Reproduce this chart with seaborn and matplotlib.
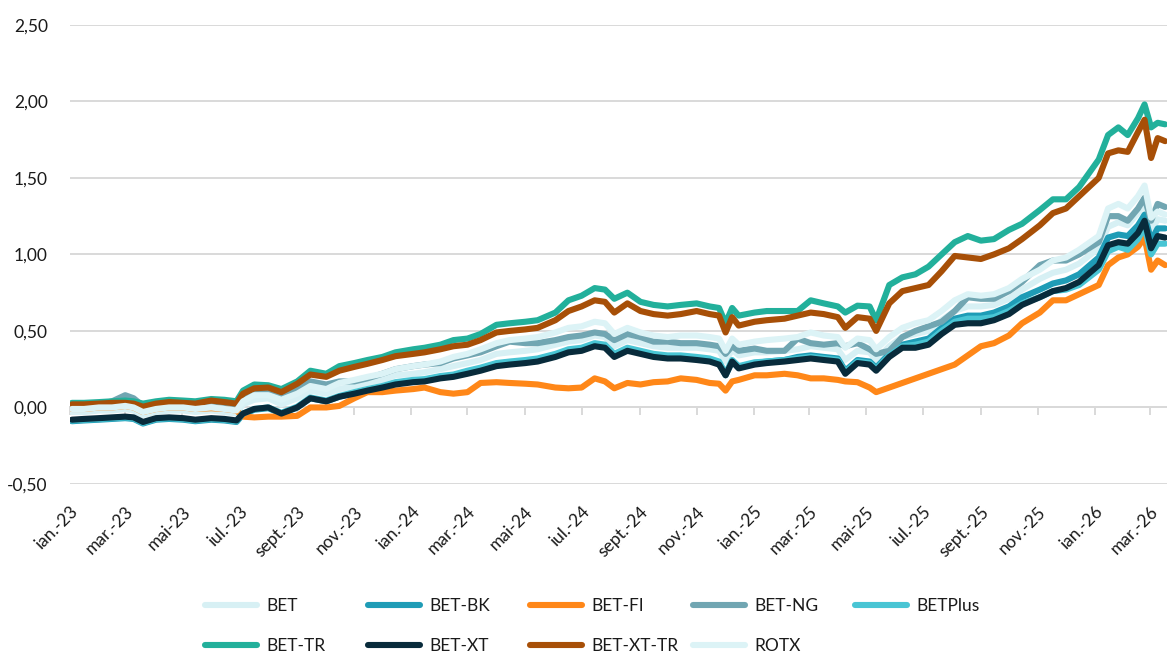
import matplotlib
matplotlib.use("Agg")
import matplotlib.pyplot as plt
from matplotlib.lines import Line2D
from matplotlib.ticker import FuncFormatter
import numpy as np
import pandas as pd
import seaborn as sns

# Sampling dates (roughly twice a month, plus a few turning points)
dates = [
    "2023-01-03", "2023-01-16", "2023-02-01", "2023-02-15", "2023-03-01", "2023-03-10",
    "2023-03-20", "2023-04-03", "2023-04-17", "2023-05-02", "2023-05-15", "2023-06-01",
    "2023-06-15", "2023-06-28", "2023-07-05", "2023-07-17", "2023-08-01", "2023-08-15",
    "2023-09-01", "2023-09-15", "2023-10-02", "2023-10-16", "2023-11-01", "2023-11-15",
    "2023-12-01", "2023-12-15", "2024-01-03", "2024-01-15", "2024-02-01", "2024-02-15",
    "2024-03-01", "2024-03-15", "2024-04-01", "2024-04-15", "2024-05-02", "2024-05-15",
    "2024-06-03", "2024-06-17", "2024-07-01", "2024-07-15", "2024-07-26", "2024-08-05",
    "2024-08-19", "2024-09-02", "2024-09-16", "2024-10-01", "2024-10-15", "2024-11-01",
    "2024-11-15", "2024-11-25", "2024-12-02", "2024-12-09", "2024-12-16", "2025-01-02",
    "2025-01-15", "2025-02-03", "2025-02-17", "2025-03-03", "2025-03-17", "2025-04-01",
    "2025-04-09", "2025-04-22", "2025-05-05", "2025-05-12", "2025-05-26", "2025-06-09",
    "2025-06-23", "2025-07-07", "2025-07-21", "2025-08-04", "2025-08-18", "2025-09-01",
    "2025-09-15", "2025-10-01", "2025-10-15", "2025-11-03", "2025-11-17", "2025-12-01",
    "2025-12-15", "2026-01-05", "2026-01-15", "2026-01-26", "2026-02-05", "2026-02-16",
    "2026-02-23", "2026-03-02", "2026-03-09", "2026-03-17",
]

bet = [
    -0.03, -0.03, -0.02, -0.02, -0.01, -0.02, -0.05, -0.03, -0.02, -0.02, -0.03, -0.02,
    -0.03, -0.04, 0.02, 0.05, 0.06, 0.02, 0.06, 0.11, 0.09, 0.12, 0.14, 0.16,
    0.18, 0.21, 0.22, 0.23, 0.25, 0.27, 0.29, 0.31, 0.35, 0.36, 0.37, 0.38,
    0.41, 0.43, 0.44, 0.47, 0.46, 0.40, 0.44, 0.42, 0.40, 0.39, 0.39, 0.39,
    0.38, 0.37, 0.30, 0.38, 0.34, 0.36, 0.36, 0.37, 0.38, 0.40, 0.39, 0.38,
    0.31, 0.37, 0.36, 0.31, 0.40, 0.46, 0.48, 0.50, 0.57, 0.63, 0.66, 0.66,
    0.67, 0.71, 0.77, 0.84, 0.88, 0.90, 0.94, 1.04, 1.18, 1.21, 1.19, 1.27,
    1.34, 1.15, 1.23, 1.22,
]

bet_bk = [
    -0.09, -0.085, -0.08, -0.075, -0.07, -0.075, -0.105, -0.08, -0.075, -0.08, -0.09, -0.08,
    -0.085, -0.095, -0.045, -0.015, -0.005, -0.04, 0.0, 0.06, 0.04, 0.07, 0.095, 0.115,
    0.135, 0.16, 0.175, 0.18, 0.20, 0.21, 0.235, 0.255, 0.285, 0.295, 0.30, 0.315,
    0.345, 0.37, 0.38, 0.41, 0.40, 0.34, 0.38, 0.36, 0.34, 0.33, 0.33, 0.32,
    0.31, 0.29, 0.21, 0.30, 0.26, 0.29, 0.30, 0.31, 0.33, 0.34, 0.33, 0.32,
    0.24, 0.31, 0.30, 0.26, 0.35, 0.41, 0.43, 0.45, 0.52, 0.58, 0.60, 0.60,
    0.62, 0.66, 0.72, 0.77, 0.81, 0.83, 0.87, 0.98, 1.11, 1.13, 1.12, 1.19,
    1.26, 1.09, 1.17, 1.17,
]

bet_fi = [
    -0.01, -0.01, 0.0, 0.0, 0.01, 0.0, -0.03, -0.01, 0.0, 0.0, -0.01, -0.005,
    -0.01, -0.02, -0.06, -0.065, -0.06, -0.06, -0.055, 0.0, 0.0, 0.01, 0.06, 0.10,
    0.10, 0.11, 0.12, 0.13, 0.10, 0.09, 0.10, 0.16, 0.165, 0.16, 0.155, 0.15,
    0.13, 0.125, 0.13, 0.19, 0.17, 0.125, 0.16, 0.15, 0.165, 0.17, 0.19, 0.18,
    0.16, 0.155, 0.11, 0.17, 0.18, 0.21, 0.21, 0.22, 0.21, 0.19, 0.19, 0.18,
    0.17, 0.165, 0.13, 0.10, 0.13, 0.16, 0.19, 0.22, 0.25, 0.28, 0.34, 0.40,
    0.42, 0.47, 0.55, 0.62, 0.70, 0.70, 0.74, 0.80, 0.93, 0.98, 1.00, 1.05,
    1.11, 0.90, 0.96, 0.93,
]

bet_ng = [
    0.0, 0.0, 0.02, 0.04, 0.08, 0.06, 0.01, 0.03, 0.04, 0.04, 0.03, 0.04,
    0.03, 0.02, 0.08, 0.10, 0.10, 0.07, 0.12, 0.17, 0.15, 0.17, 0.17, 0.19,
    0.22, 0.25, 0.27, 0.28, 0.29, 0.32, 0.34, 0.36, 0.40, 0.43, 0.42, 0.42,
    0.44, 0.46, 0.47, 0.49, 0.48, 0.44, 0.48, 0.46, 0.43, 0.43, 0.42, 0.42,
    0.41, 0.40, 0.35, 0.40, 0.37, 0.385, 0.37, 0.37, 0.45, 0.42, 0.41, 0.42,
    0.40, 0.42, 0.38, 0.35, 0.37, 0.46, 0.50, 0.53, 0.56, 0.63, 0.72, 0.71,
    0.71, 0.76, 0.82, 0.93, 0.96, 0.96, 1.00, 1.08, 1.25, 1.25, 1.22, 1.30,
    1.37, 1.22, 1.33, 1.31,
]

bet_plus = [
    -0.085, -0.08, -0.075, -0.07, -0.065, -0.07, -0.10, -0.075, -0.07, -0.075, -0.085, -0.075,
    -0.08, -0.09, -0.04, -0.01, 0.0, -0.035, 0.005, 0.065, 0.045, 0.075, 0.10, 0.12,
    0.14, 0.165, 0.18, 0.185, 0.205, 0.215, 0.24, 0.26, 0.29, 0.30, 0.31, 0.32,
    0.35, 0.38, 0.39, 0.42, 0.41, 0.35, 0.39, 0.37, 0.35, 0.34, 0.34, 0.33,
    0.32, 0.30, 0.22, 0.31, 0.27, 0.295, 0.30, 0.31, 0.32, 0.33, 0.32, 0.31,
    0.23, 0.30, 0.29, 0.25, 0.34, 0.40, 0.41, 0.43, 0.50, 0.56, 0.58, 0.58,
    0.59, 0.63, 0.68, 0.72, 0.76, 0.77, 0.80, 0.90, 1.02, 1.05, 1.03, 1.10,
    1.18, 1.00, 1.07, 1.07,
]

bet_tr = [
    0.03, 0.03, 0.035, 0.04, 0.045, 0.04, 0.025, 0.04, 0.05, 0.045, 0.04, 0.055,
    0.05, 0.04, 0.11, 0.15, 0.145, 0.12, 0.17, 0.24, 0.22, 0.27, 0.29, 0.31,
    0.33, 0.36, 0.38, 0.39, 0.41, 0.44, 0.45, 0.48, 0.54, 0.55, 0.56, 0.57,
    0.62, 0.70, 0.73, 0.78, 0.77, 0.71, 0.75, 0.69, 0.67, 0.66, 0.67, 0.68,
    0.66, 0.65, 0.55, 0.65, 0.60, 0.62, 0.63, 0.63, 0.63, 0.70, 0.68, 0.66,
    0.62, 0.665, 0.66, 0.57, 0.80, 0.85, 0.87, 0.92, 1.00, 1.08, 1.12, 1.09,
    1.10, 1.16, 1.20, 1.29, 1.36, 1.36, 1.44, 1.62, 1.78, 1.83, 1.78, 1.89,
    1.98, 1.83, 1.86, 1.85,
]

bet_xt = [
    -0.08, -0.075, -0.07, -0.065, -0.06, -0.065, -0.095, -0.07, -0.065, -0.07, -0.08, -0.07,
    -0.075, -0.085, -0.04, -0.01, 0.0, -0.04, 0.0, 0.06, 0.04, 0.07, 0.09, 0.11,
    0.13, 0.15, 0.165, 0.17, 0.19, 0.20, 0.22, 0.24, 0.27, 0.28, 0.29, 0.30,
    0.33, 0.36, 0.37, 0.40, 0.39, 0.33, 0.37, 0.35, 0.33, 0.32, 0.32, 0.31,
    0.30, 0.28, 0.21, 0.30, 0.255, 0.28, 0.29, 0.30, 0.31, 0.32, 0.31, 0.30,
    0.22, 0.29, 0.28, 0.24, 0.33, 0.39, 0.39, 0.41, 0.48, 0.54, 0.55, 0.55,
    0.57, 0.61, 0.67, 0.72, 0.76, 0.78, 0.82, 0.93, 1.06, 1.08, 1.07, 1.14,
    1.22, 1.04, 1.12, 1.11,
]

bet_xt_tr = [
    0.02, 0.02, 0.025, 0.03, 0.03, 0.025, 0.005, 0.025, 0.035, 0.03, 0.025, 0.045,
    0.035, 0.025, 0.09, 0.125, 0.13, 0.10, 0.155, 0.215, 0.20, 0.24, 0.265, 0.285,
    0.31, 0.335, 0.35, 0.36, 0.38, 0.40, 0.41, 0.44, 0.49, 0.50, 0.51, 0.52,
    0.57, 0.63, 0.66, 0.70, 0.69, 0.62, 0.68, 0.63, 0.61, 0.60, 0.61, 0.63,
    0.61, 0.60, 0.49, 0.59, 0.535, 0.56, 0.57, 0.58, 0.60, 0.62, 0.61, 0.59,
    0.52, 0.59, 0.58, 0.50, 0.68, 0.76, 0.78, 0.80, 0.89, 0.99, 0.98, 0.97,
    1.00, 1.04, 1.10, 1.19, 1.27, 1.30, 1.38, 1.50, 1.66, 1.68, 1.67, 1.80,
    1.88, 1.63, 1.76, 1.74,
]

rotx = [
    -0.01, -0.01, 0.0, 0.0, 0.01, 0.0, -0.03, -0.01, 0.0, 0.0, -0.01, 0.0,
    -0.01, -0.02, 0.04, 0.08, 0.08, 0.05, 0.09, 0.14, 0.12, 0.16, 0.18, 0.20,
    0.22, 0.25, 0.27, 0.28, 0.30, 0.33, 0.35, 0.38, 0.42, 0.44, 0.45, 0.46,
    0.49, 0.52, 0.53, 0.56, 0.55, 0.48, 0.52, 0.49, 0.47, 0.46, 0.47, 0.47,
    0.46, 0.45, 0.37, 0.45, 0.41, 0.43, 0.44, 0.45, 0.46, 0.49, 0.47, 0.46,
    0.39, 0.45, 0.44, 0.38, 0.46, 0.52, 0.55, 0.57, 0.63, 0.70, 0.74, 0.73,
    0.74, 0.78, 0.84, 0.90, 0.96, 0.98, 1.03, 1.12, 1.30, 1.33, 1.30, 1.38,
    1.45, 1.24, 1.28, 1.26,
]

index_names = ["BET", "BET-BK", "BET-FI", "BET-NG", "BETPlus",
               "BET-TR", "BET-XT", "BET-XT-TR", "ROTX"]
index_colors = ["#d7f0f4", "#1f9cb6", "#ff8718", "#71a6b2", "#49c5d4",
                "#22b09b", "#082b3b", "#a74f07", "#dcf3f6"]

tick_dates = [
    "2023-01-01", "2023-03-01", "2023-05-01", "2023-07-01", "2023-09-01", "2023-11-01",
    "2024-01-01", "2024-03-01", "2024-05-01", "2024-07-01", "2024-09-01", "2024-11-01",
    "2025-01-01", "2025-03-01", "2025-05-01", "2025-07-01", "2025-09-01", "2025-11-01",
    "2026-01-01", "2026-03-01",
]
tick_labels = [
    "ian.-23", "mar.-23", "mai-23", "iul.-23", "sept.-23", "nov.-23",
    "ian.-24", "mar.-24", "mai-24", "iul.-24", "sept.-24", "nov.-24",
    "ian.-25", "mar.-25", "mai-25", "iul.-25", "sept.-25", "nov.-25",
    "ian.-26", "mar.-26",
]
y_ticks = [-0.5, 0.0, 0.5, 1.0, 1.5, 2.0, 2.5]

series = [bet, bet_bk, bet_fi, bet_ng, bet_plus, bet_tr, bet_xt, bet_xt_tr, rotx]
frames = [pd.DataFrame({"date": pd.to_datetime(dates), "value": vals, "index": name})
          for name, vals in zip(index_names, series)]
df = pd.concat(frames, ignore_index=True)

sns.set_theme(style="white")
plt.rcParams["font.family"] = ["Lato", "DejaVu Sans"]

fig = plt.figure(figsize=(11.67, 6.54), dpi=100)
ax = fig.add_axes([0.060, 0.260, 0.940, 0.702])

palette = dict(zip(index_names, index_colors))
sns.lineplot(data=df, x="date", y="value", hue="index", hue_order=index_names,
             palette=palette, linewidth=4.4, legend=False, ax=ax,
             solid_capstyle="round", solid_joinstyle="round")

grid_color = "#d9d9d9"
ax.set_ylim(-0.5, 2.5)
ax.set_xlim(pd.Timestamp("2023-01-01"), pd.Timestamp("2026-03-19"))
ax.set_yticks(y_ticks)
ax.yaxis.set_major_formatter(FuncFormatter(lambda v, _: f"{v:.2f}".replace(".", ",")))
ax.yaxis.grid(True, color=grid_color, linewidth=1.4)
ax.xaxis.grid(False)
ax.set_axisbelow(True)
for side in ["top", "right", "left", "bottom"]:
    ax.spines[side].set_visible(False)

ax.set_xticks(pd.to_datetime(tick_dates))
ax.set_xticklabels(tick_labels, rotation=45, ha="right", rotation_mode="anchor")
ax.tick_params(axis="x", length=0, pad=14, labelsize=12.5, labelcolor="#1a1a1a")
ax.tick_params(axis="y", length=0, pad=16, labelsize=12.5, labelcolor="#1a1a1a")
ax.set_xlabel("")
ax.set_ylabel("")

# Category axis crossing at zero, with small tick marks
zero_frac = (0 - (-0.5)) / (2.5 - (-0.5))
sec = ax.secondary_xaxis(zero_frac)
sec.set_xticks(pd.to_datetime(tick_dates))
sec.set_xticklabels([])
sec.tick_params(axis="x", length=6, width=1.4, color=grid_color, direction="out")
sec.spines["bottom"].set_color(grid_color)
sec.spines["bottom"].set_linewidth(1.4)
for side in ["top", "left", "right"]:
    sec.spines[side].set_visible(False)

# Legend: two rows, five evenly spaced columns
handles = {name: Line2D([0], [0], color=col, linewidth=4.4, solid_capstyle="round")
           for name, col in zip(index_names, index_colors)}
rows = [index_names[:5], index_names[5:]]
col_x = [205, 368, 530, 693, 855]
W, H = 1167, 654
for ci, x0 in enumerate(col_x):
    names = [r[ci] for r in rows if ci < len(r)]
    fig.legend([handles[n] for n in names], names, loc="upper left",
               bbox_to_anchor=(x0 / W, 1 - 598 / H), frameon=False,
               fontsize=12.5, handlelength=3.0, handletextpad=0.55,
               labelspacing=1.38, borderaxespad=0, borderpad=0,
               labelcolor="#1a1a1a")

fig.savefig("out.png", dpi=100)
